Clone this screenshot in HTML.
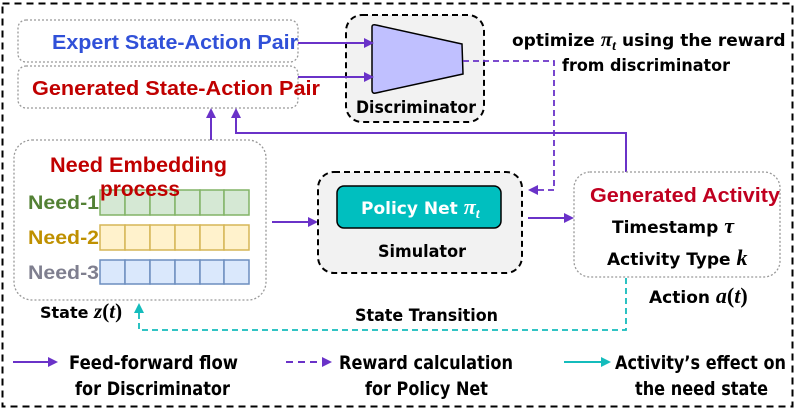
<!DOCTYPE html>
<html><head><meta charset="utf-8"><style>
html,body{margin:0;padding:0;background:#fff;}
svg{display:block;}
text{font-family:"Liberation Sans",sans-serif;font-weight:bold;}
.c{font-family:"DejaVu Sans","Liberation Sans",sans-serif;font-weight:bold;}
</style></head><body>
<svg width="802" height="414" viewBox="0 0 802 414" xmlns="http://www.w3.org/2000/svg">
<defs>
<marker id="ap" markerWidth="10" markerHeight="10" refX="8" refY="5" orient="auto" markerUnits="userSpaceOnUse"><path d="M0,0 L10,5 L0,10 z" fill="#6a32c8"/></marker>
<marker id="ac" markerWidth="10" markerHeight="10" refX="8" refY="5" orient="auto" markerUnits="userSpaceOnUse"><path d="M0,0 L10,5 L0,10 z" fill="#14bcbc"/></marker>
</defs>
<rect x="2.5" y="3.5" width="790" height="403" fill="none" stroke="#000" stroke-width="2" stroke-dasharray="7,5"/>

<rect x="18" y="20" width="280" height="42" rx="8" fill="none" stroke="#999" stroke-width="1.3" stroke-dasharray="2,2"/>
<rect x="18" y="66" width="280" height="42" rx="8" fill="none" stroke="#999" stroke-width="1.3" stroke-dasharray="2,2"/>
<text x="52" y="49" font-size="20" fill="#3050d8" textLength="246" lengthAdjust="spacingAndGlyphs">Expert State-Action Pair</text>
<text x="32" y="95" font-size="20" fill="#c00000" textLength="288" lengthAdjust="spacingAndGlyphs">Generated State-Action Pair</text>

<rect x="346" y="15" width="138" height="107" rx="16" fill="#f2f2f2" stroke="#000" stroke-width="2" stroke-dasharray="6,4"/>
<path d="M372,27 Q372,24 376,25 L462,44 L463,74 L376,93 Q372,94 372,90 z" fill="#c0c0ff" stroke="#000" stroke-width="1.5"/>
<line x1="298" y1="43" x2="372" y2="43" stroke="#6a32c8" stroke-width="2" marker-end="url(#ap)"/>
<line x1="298" y1="77" x2="372" y2="77" stroke="#6a32c8" stroke-width="2" marker-end="url(#ap)"/>
<text x="356" y="113" font-size="17" fill="#000" class="c" textLength="120" lengthAdjust="spacingAndGlyphs">Discriminator</text>
<polyline points="463,61 554,61 554,190 530,190" fill="none" stroke="#6a32c8" stroke-width="1.8" stroke-dasharray="6,4" marker-end="url(#ap)"/>
<text x="512" y="46" font-size="17" class="c">optimize <tspan font-family="Liberation Serif" font-style="italic" font-size="21">π</tspan><tspan font-family="Liberation Serif" font-style="italic" font-size="14" dy="4">t</tspan><tspan dy="-4"> using the reward</tspan></text>
<text x="562" y="71" font-size="17" class="c" textLength="168" lengthAdjust="spacingAndGlyphs">from discriminator</text>

<line x1="211" y1="140" x2="211" y2="110" stroke="#6a32c8" stroke-width="2" marker-end="url(#ap)"/>
<polyline points="626,176 626,133 236,133 236,110" fill="none" stroke="#6a32c8" stroke-width="2" marker-end="url(#ap)"/>

<rect x="14" y="140" width="252" height="160" rx="18" fill="none" stroke="#999" stroke-width="1.3" stroke-dasharray="2,2"/>
<text x="50" y="172" font-size="21" fill="#c00000" textLength="177" lengthAdjust="spacingAndGlyphs">Need Embedding</text>
<g stroke-width="1.5">
<g fill="#d5e8d4" stroke="#82b366">
<rect x="100" y="190" width="25" height="25"/><rect x="125" y="190" width="25" height="25"/><rect x="150" y="190" width="25" height="25"/><rect x="175" y="190" width="25" height="25"/><rect x="200" y="190" width="24" height="25"/><rect x="224" y="190" width="25" height="25"/></g>
<g fill="#fff2cc" stroke="#d6b656">
<rect x="100" y="225" width="25" height="25"/><rect x="125" y="225" width="25" height="25"/><rect x="150" y="225" width="25" height="25"/><rect x="175" y="225" width="25" height="25"/><rect x="200" y="225" width="24" height="25"/><rect x="224" y="225" width="25" height="25"/></g>
<g fill="#dae8fc" stroke="#6c8ebf">
<rect x="100" y="260" width="25" height="24"/><rect x="125" y="260" width="25" height="24"/><rect x="150" y="260" width="25" height="24"/><rect x="175" y="260" width="25" height="24"/><rect x="200" y="260" width="24" height="24"/><rect x="224" y="260" width="25" height="24"/></g>
</g>
<text x="100" y="196" font-size="21" fill="#c00000" textLength="80" lengthAdjust="spacingAndGlyphs">process</text>
<text x="28" y="209" font-size="19" fill="#538135" textLength="71" lengthAdjust="spacingAndGlyphs">Need-1</text>
<text x="28" y="244" font-size="19" fill="#bf9000" textLength="71" lengthAdjust="spacingAndGlyphs">Need-2</text>
<text x="28" y="279" font-size="19" fill="#7f7f8f" textLength="71" lengthAdjust="spacingAndGlyphs">Need-3</text>
<text x="40" y="318" font-size="16" class="c">State <tspan font-family="Liberation Serif" font-style="italic" font-size="21">z</tspan><tspan font-family="Liberation Serif" font-size="21">(</tspan><tspan font-family="Liberation Serif" font-style="italic" font-size="21">t</tspan><tspan font-family="Liberation Serif" font-size="21">)</tspan></text>
<line x1="272" y1="222" x2="316" y2="222" stroke="#6a32c8" stroke-width="2" marker-end="url(#ap)"/>

<rect x="318" y="172" width="204" height="101" rx="16" fill="#f2f2f2" stroke="#000" stroke-width="2" stroke-dasharray="6,4"/>
<rect x="337" y="186" width="164" height="42" rx="7" fill="#00bfbf" stroke="#000" stroke-width="1.5"/>
<text x="361" y="214" font-size="17" fill="#fff" class="c">Policy Net <tspan font-family="Liberation Serif" font-style="italic" font-size="22">π</tspan><tspan font-family="Liberation Serif" font-style="italic" font-size="14" dy="4">t</tspan></text>
<text x="378" y="257" font-size="17" class="c" textLength="88" lengthAdjust="spacingAndGlyphs">Simulator</text>
<line x1="528" y1="218" x2="572" y2="218" stroke="#6a32c8" stroke-width="2" marker-end="url(#ap)"/>

<rect x="574" y="172" width="206" height="105" rx="16" fill="#fff" stroke="#999" stroke-width="1.3" stroke-dasharray="2,2"/>
<text x="590" y="202" font-size="20" fill="#c00020" textLength="190" lengthAdjust="spacingAndGlyphs">Generated Activity</text>
<text x="612" y="233" font-size="17" class="c">Timestamp <tspan font-family="Liberation Serif" font-style="italic" font-size="22">τ</tspan></text>
<text x="607" y="265" font-size="17" class="c">Activity Type <tspan font-family="Liberation Serif" font-style="italic" font-size="22">k</tspan></text>
<text x="649" y="303" font-size="17" class="c">Action <tspan font-family="Liberation Serif" font-style="italic" font-size="22">a</tspan><tspan font-family="Liberation Serif" font-size="22">(</tspan><tspan font-family="Liberation Serif" font-style="italic" font-size="22">t</tspan><tspan font-family="Liberation Serif" font-size="22">)</tspan></text>
<polyline points="626,278 626,330 139,330 139,305" fill="none" stroke="#14bcbc" stroke-width="1.8" stroke-dasharray="6,4" marker-end="url(#ac)"/>
<text x="355" y="321" font-size="17" class="c" textLength="143" lengthAdjust="spacingAndGlyphs">State Transition</text>

<line x1="13" y1="362" x2="56" y2="362" stroke="#6a32c8" stroke-width="2" marker-end="url(#ap)"/>
<text x="69" y="369" font-size="19" class="c" textLength="169" lengthAdjust="spacingAndGlyphs">Feed-forward flow</text>
<text x="75" y="395" font-size="19" class="c" textLength="155" lengthAdjust="spacingAndGlyphs">for Discriminator</text>
<line x1="286" y1="362" x2="330" y2="362" stroke="#6a32c8" stroke-width="2" stroke-dasharray="7,5" marker-end="url(#ap)"/>
<text x="339" y="369" font-size="19" class="c" textLength="174" lengthAdjust="spacingAndGlyphs">Reward calculation</text>
<text x="365" y="395" font-size="19" class="c" textLength="123" lengthAdjust="spacingAndGlyphs">for Policy Net</text>
<line x1="564" y1="362" x2="609" y2="362" stroke="#14bcbc" stroke-width="2" marker-end="url(#ac)"/>
<text x="615" y="369" font-size="19" class="c" textLength="171" lengthAdjust="spacingAndGlyphs">Activity’s effect on</text>
<text x="635" y="395" font-size="19" class="c" textLength="133" lengthAdjust="spacingAndGlyphs">the need state</text>
</svg>
</body></html>
